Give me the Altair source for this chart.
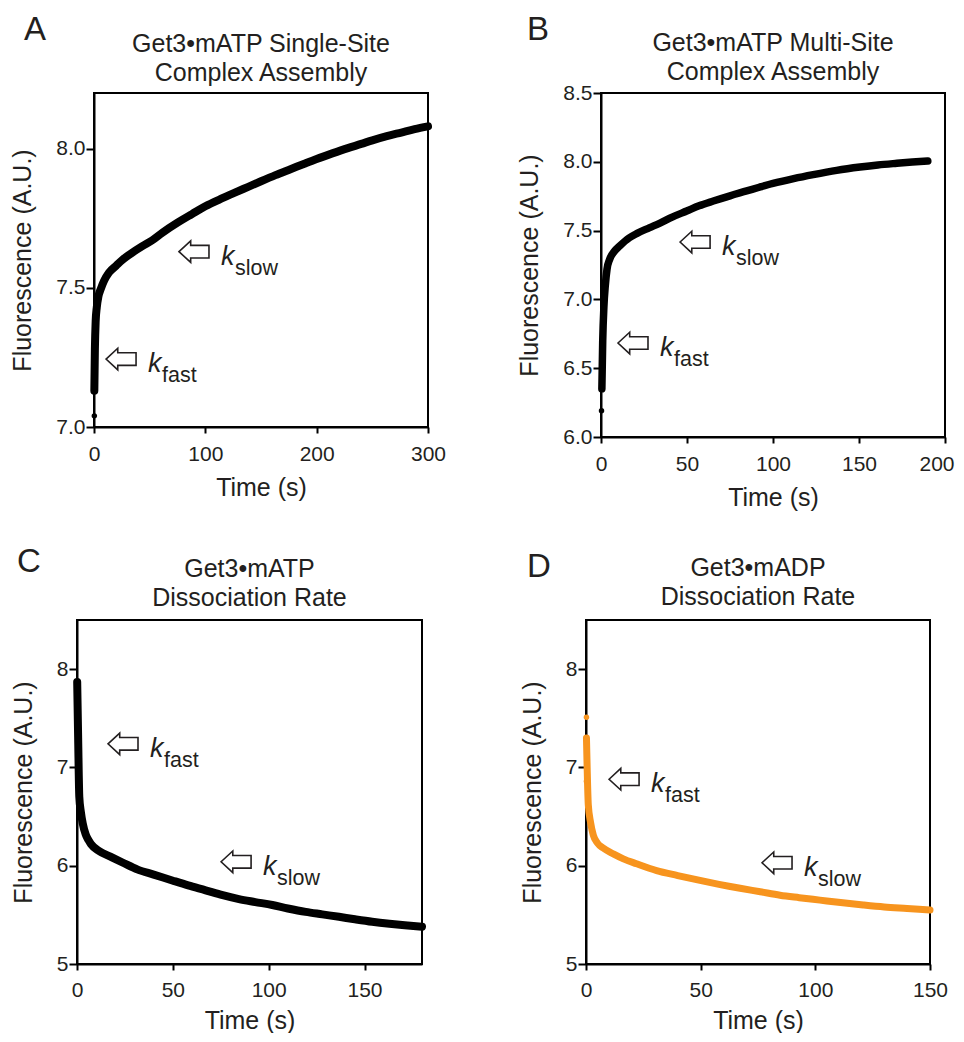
import altair as alt
import pandas as pd

FONT = "Liberation Sans"
INK = "#231F20"
ORANGE = "#F7941E"

# ---------------- Panel A: Get3•mATP single-site assembly ----------------
a_t = [0.3, 0.8, 1.5, 2.5, 4, 6, 9, 13.5, 20, 25.4, 32, 43.4, 52, 61.4, 75, 88, 100,
       113, 126, 138, 150, 163, 177, 189, 200, 214, 228, 240, 250, 263, 276, 288, 300]
a_f = [7.13, 7.28, 7.38, 7.43, 7.47, 7.495, 7.525, 7.555, 7.58, 7.60, 7.62, 7.65, 7.67,
       7.698, 7.734, 7.765, 7.793, 7.818, 7.841, 7.862, 7.883, 7.905, 7.927, 7.946, 7.963,
       7.983, 8.002, 8.017, 8.030, 8.045, 8.058, 8.070, 8.080]
a_dot_t = [0.3]
a_dot_f = [7.04]
a_ann = [(89.8, 7.63, "slow"), (24.3, 7.244, "fast")]

# ---------------- Panel B: Get3•mATP multi-site assembly ----------------
b_t = [0.5, 1.0, 1.7, 2.5, 3.5, 5, 7.8, 11, 16.5, 21, 28, 34.3, 41.7, 49.8, 57, 65.3,
       75, 84.7, 92, 100, 112, 123.4, 137, 150.6, 161, 172, 181, 190]
b_f = [6.35, 6.70, 6.95, 7.10, 7.22, 7.29, 7.35, 7.39, 7.448, 7.48, 7.52, 7.555, 7.60,
       7.642, 7.68, 7.715, 7.753, 7.788, 7.815, 7.843, 7.878, 7.907, 7.938, 7.962, 7.977,
       7.989, 7.998, 8.006]
b_dot_t = [0.3]
b_dot_f = [6.19]
b_ann = [(54.7, 7.417, "slow"), (18.6, 6.683, "fast")]

# ---------------- Panel C: Get3•mATP dissociation ----------------
c_t = [0.1, 0.6, 1.2, 2, 3, 4.5, 6, 7.3, 11.5, 17.7, 24, 31.7, 40, 49.7, 58, 67.1, 76,
       84.5, 93, 101.9, 110, 119.3, 128, 136.7, 145, 154, 163, 171, 180]
c_f = [7.87, 7.30, 6.70, 6.55, 6.43, 6.32, 6.26, 6.22, 6.15, 6.09, 6.03, 5.96, 5.91,
       5.85, 5.80, 5.75, 5.70, 5.66, 5.63, 5.60, 5.565, 5.53, 5.505, 5.48, 5.455, 5.43,
       5.41, 5.395, 5.38]
c_dot_t = [0.1]
c_dot_f = [7.87]
c_ann = [(24.0, 7.24, "fast"), (83.0, 6.04, "slow")]

# ---------------- Panel D: Get3•mADP dissociation ----------------
d_t = [0.2, 0.5, 1.0, 2, 3.2, 5, 7.5, 11.9, 16.3, 22, 30.8, 40, 49.7, 58, 67.2, 76,
       84.6, 93, 102, 111, 120.9, 130, 140, 150]
d_f = [7.30, 7.00, 6.62, 6.44, 6.31, 6.23, 6.18, 6.12, 6.07, 6.02, 5.95, 5.90, 5.85,
       5.81, 5.77, 5.735, 5.70, 5.675, 5.65, 5.625, 5.60, 5.58, 5.565, 5.55]
d_dot_t = [0.2, 0.2]
d_dot_f = [7.51, 6.86]
d_ann = [(16.6, 6.88, "fast"), (83.3, 6.03, "slow")]

ARROW = "M -1 0 L -0.22 -0.72 L -0.22 -0.42 L 1 -0.42 L 1 0.42 L -0.22 0.42 L -0.22 0.72 Z"


def panel(letter, title, t, f, dot_t, dot_f, ann, color, lw, xdom, xticks, ydom,
          yticks, yfmt, w, h, ldx, ldy, tdy, xlabpad, xtitlepad, last_flush=False):
    xaxis_kw = dict(values=xticks, title="Time (s)", format="d",
                    labelPadding=xlabpad, titlePadding=xtitlepad)
    if last_flush:
        last = xticks[-1]
        xaxis_kw["labelAlign"] = {"condition": {"test": f"datum.value == {last}",
                                                "value": "right"}, "value": "center"}
        xaxis_kw["labelOffset"] = {"condition": {"test": f"datum.value == {last}",
                                                 "value": 9}, "value": 0}
    x = alt.X("t:Q", scale=alt.Scale(domain=xdom, nice=False, zero=False),
              axis=alt.Axis(**xaxis_kw))
    y = alt.Y("f:Q", scale=alt.Scale(domain=ydom, nice=False, zero=False),
              axis=alt.Axis(values=yticks, title="Fluorescence (A.U.)", format=yfmt))
    line = alt.Chart(pd.DataFrame({"t": t, "f": f})).mark_line(
        color=color, strokeWidth=lw, strokeCap="round", strokeJoin="round",
        interpolate="monotone").encode(x=x, y=y)
    dots = alt.Chart(pd.DataFrame({"t": dot_t, "f": dot_f})).mark_circle(
        color=color, size=30, opacity=1).encode(x=x, y=y)
    adf = pd.DataFrame({"t": [a[0] for a in ann], "f": [a[1] for a in ann],
                        "sub": [a[2] for a in ann]})
    arrows = alt.Chart(adf).mark_point(
        shape=ARROW, size=900, filled=False, stroke=INK, strokeWidth=1.6,
        opacity=1).encode(x=x, y=y)
    k = alt.Chart(adf).mark_text(
        text="k", fontStyle="italic", fontSize=27, font=FONT, align="left",
        baseline="alphabetic", dx=27, dy=13, color=INK).encode(x=x, y=y)
    sub = alt.Chart(adf).mark_text(
        fontSize=21.5, font=FONT, align="left", baseline="alphabetic",
        dx=41, dy=23, color=INK).encode(x=x, y=y, text="sub:N")
    lab = alt.Chart(pd.DataFrame({"lab": [letter]})).mark_text(
        fontSize=33, font=FONT, align="left", baseline="alphabetic",
        color=INK).encode(x=alt.value(ldx), y=alt.value(ldy), text="lab:N")
    ttl = alt.Chart(pd.DataFrame({"ttl": ["\n".join(title)]})).mark_text(
        fontSize=25, font=FONT, align="center", baseline="alphabetic",
        lineBreak="\n", lineHeight=28.5, color=INK).encode(
        x=alt.value(w / 2), y=alt.value(tdy), text="ttl:N")
    return alt.layer(line, dots, arrows, k, sub, lab, ttl).properties(width=w, height=h)


pA = panel("A", ["Get3•mATP Single-Site", "Complex Assembly"], a_t, a_f, a_dot_t,
           a_dot_f, a_ann, "black", 8, [0, 300], [0, 100, 200, 300], [7.0, 8.2],
           [7.0, 7.5, 8.0], ".1f", 334, 334, -70, -53, -41, 10, 11)
pB = panel("B", ["Get3•mATP Multi-Site", "Complex Assembly"], b_t, b_f, b_dot_t,
           b_dot_f, b_ann, "black", 7.5, [0, 200], [0, 50, 100, 150, 200], [6.0, 8.5],
           [6.0, 6.5, 7.0, 7.5, 8.0, 8.5], ".1f", 344, 344, -74, -53, -42, 10, 11,
           last_flush=True)
pC = panel("C", ["Get3•mATP", "Dissociation Rate"], c_t, c_f, c_dot_t, c_dot_f,
           c_ann, "black", 8, [0, 180], [0, 50, 100, 150], [5, 8.5], [5, 6, 7, 8],
           "d", 345, 344, -60, -48, -43, 9, 8)
pD = panel("D", ["Get3•mADP", "Dissociation Rate"], d_t, d_f, d_dot_t, d_dot_f,
           d_ann, ORANGE, 7, [0, 150], [0, 50, 100, 150], [5, 8.5], [5, 6, 7, 8],
           "d", 344, 344, -59, -43, -44, 9, 8)

# tiny invisible cell: lets the top row start further right than the bottom row
spacer = alt.Chart(pd.DataFrame({"v": [0]})).mark_point(opacity=0, size=1).encode(
    x=alt.value(0), y=alt.value(0)).properties(
    width=1, height=1, view=alt.ViewBackground(stroke="transparent"))

row1 = alt.hconcat(spacer, alt.hconcat(pA, pB, spacing=69), spacing=-70)
row2 = alt.hconcat(pC, pD, spacing=92)

chart = alt.concat(row1, row2, columns=1, align="none", spacing=34).properties(
    padding={"left": 1, "top": 5, "right": 0, "bottom": -1}
).configure_view(
    stroke="black", strokeWidth=2
).configure_axis(
    grid=False, domainColor="black", domainWidth=2, tickColor="black",
    tickWidth=2, labelFont=FONT, labelFontSize=21, labelColor=INK,
    labelFlush=False, titleFont=FONT, titleFontSize=25, titleFontWeight="normal",
    titleColor=INK
).configure_axisX(
    tickSize=6
).configure_axisY(
    tickSize=8, labelPadding=1, titlePadding=20
)

chart.save("out.html", embed_options={"renderer": "svg", "actions": False})
